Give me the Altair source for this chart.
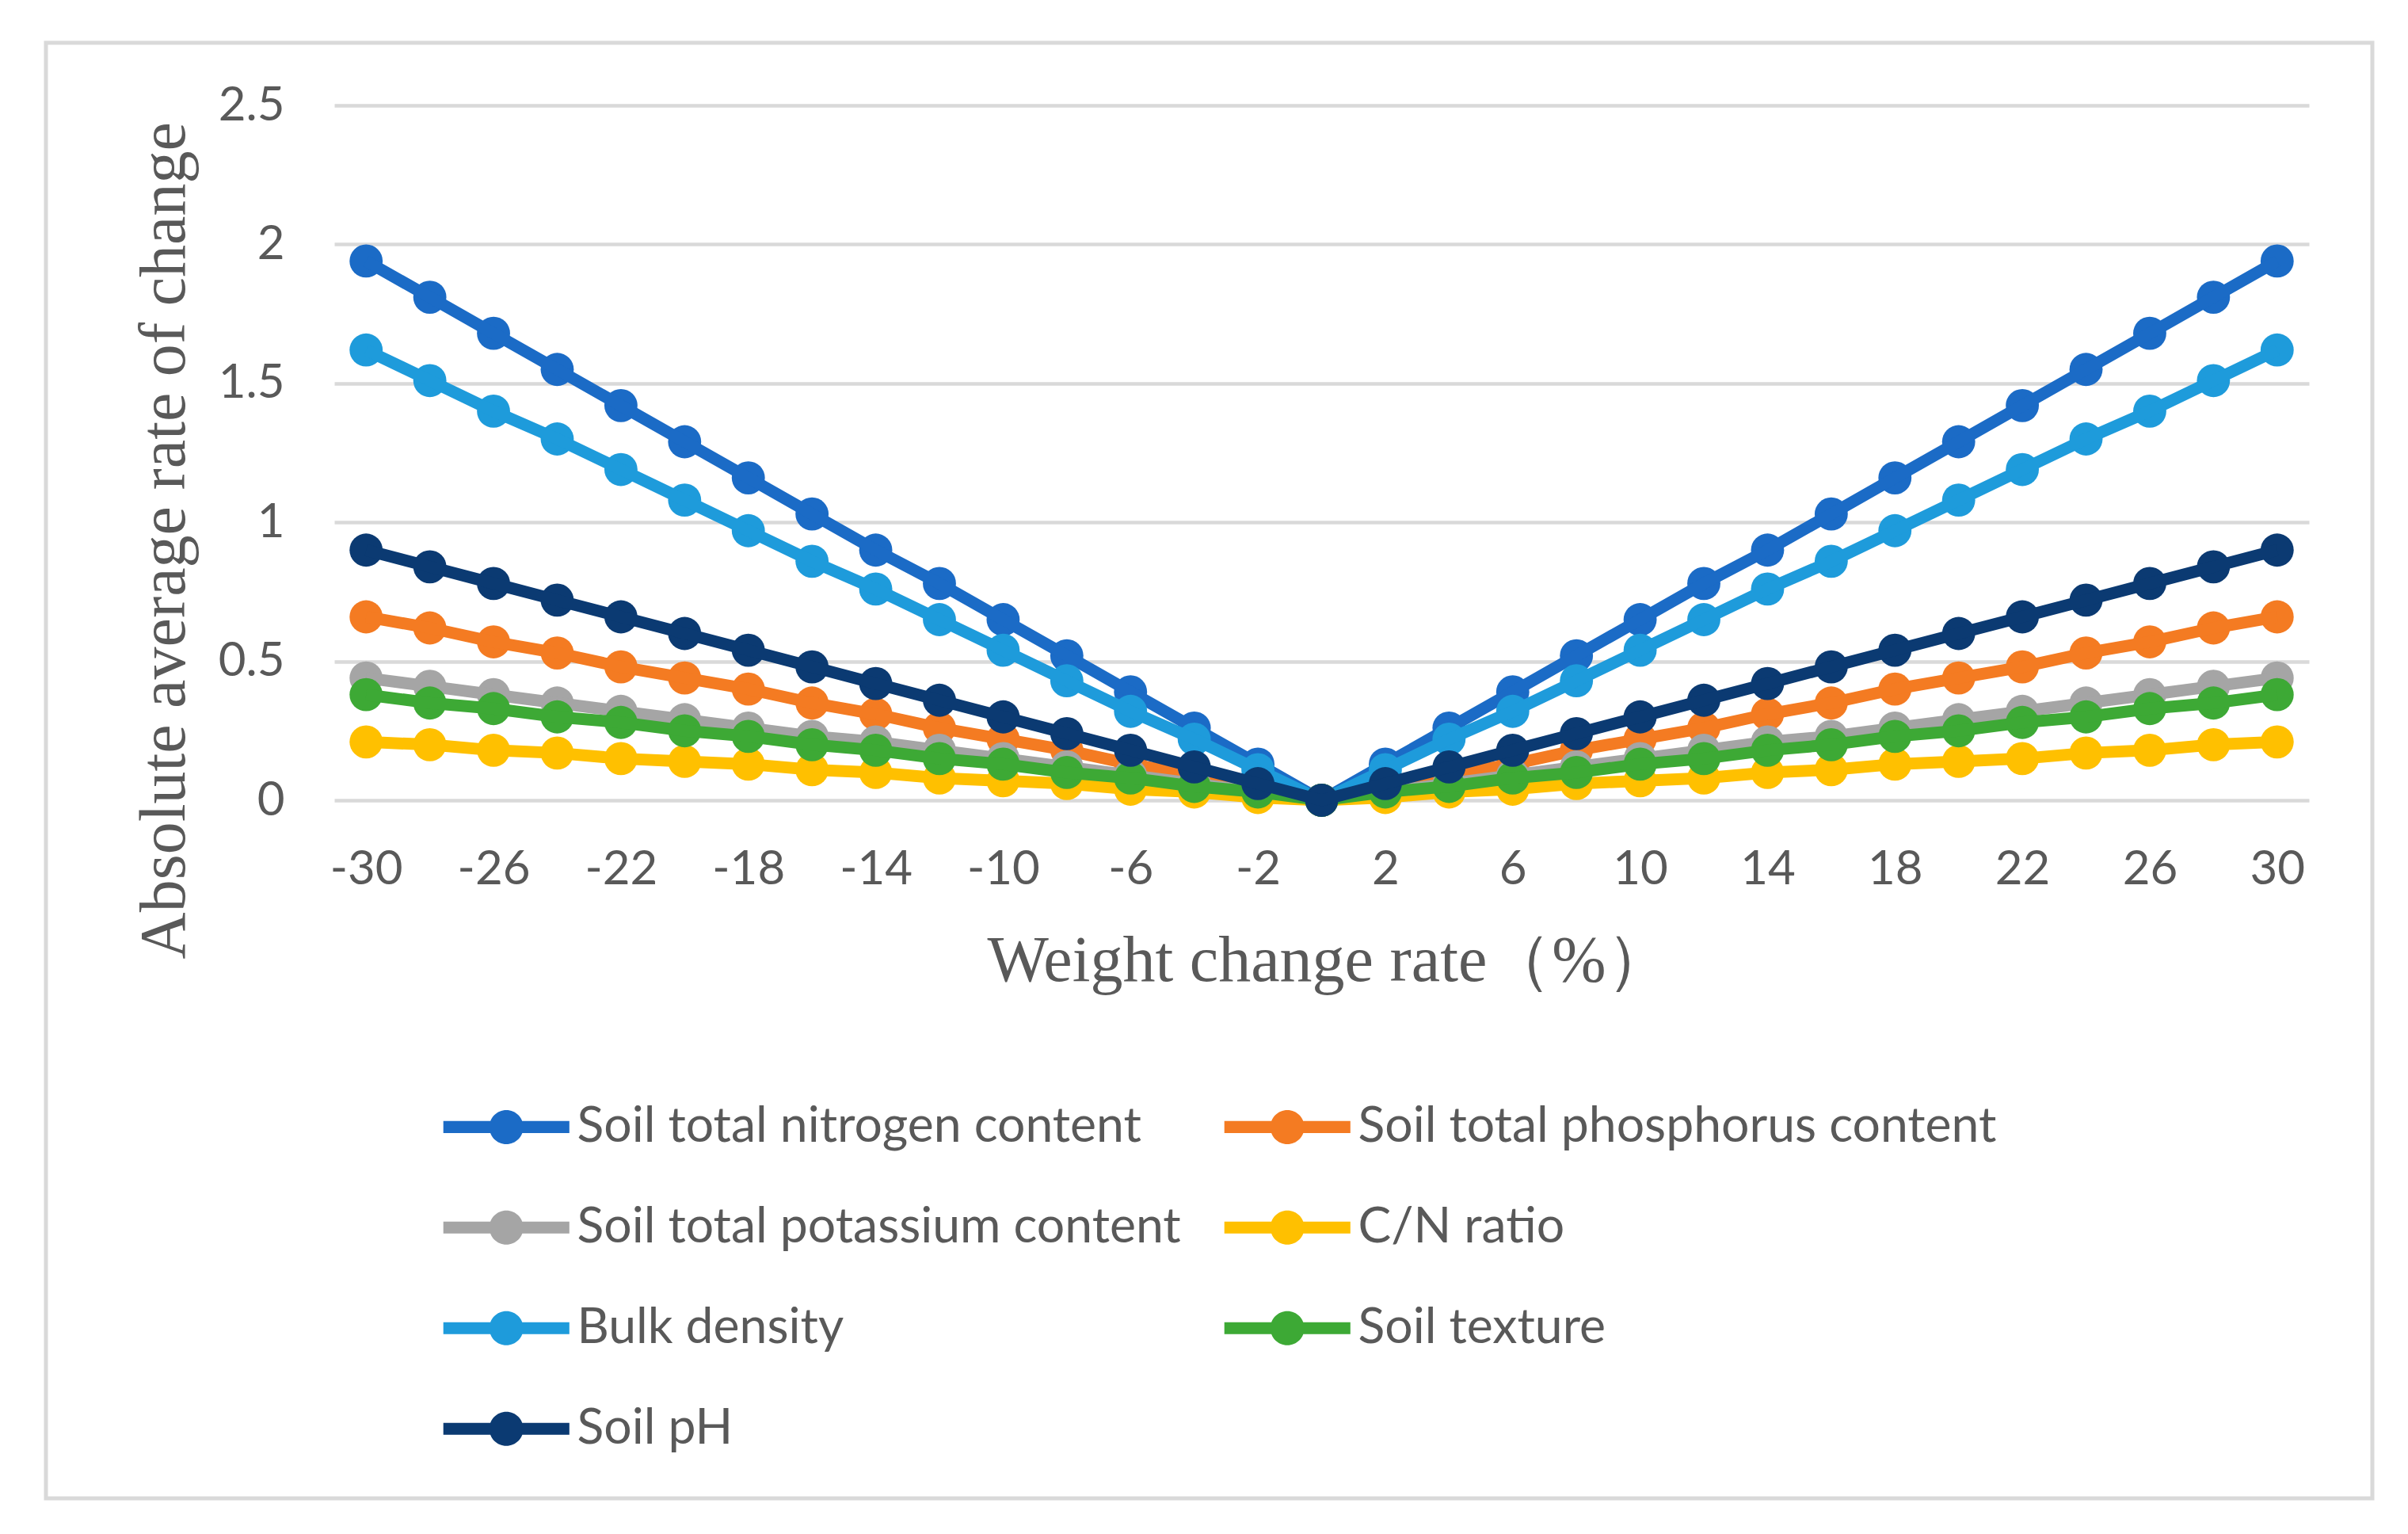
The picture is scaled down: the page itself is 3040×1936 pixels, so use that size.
import altair as alt
import pandas as pd

x_values = [-30, -28, -26, -24, -22, -20, -18, -16, -14, -12, -10, -8, -6, -4, -2, 0,
            2, 4, 6, 8, 10, 12, 14, 16, 18, 20, 22, 24, 26, 28, 30]
x_tick_labels = [-30, -26, -22, -18, -14, -10, -6, -2, 2, 6, 10, 14, 18, 22, 26, 30]
y_ticks = [0, 0.5, 1, 1.5, 2, 2.5]

series_names = [
    "Soil total nitrogen content",
    "Soil total phosphorus content",
    "Soil total potassium content",
    "C/N ratio",
    "Bulk density",
    "Soil texture",
    "Soil pH",
]
series_colors = ["#1B6BC6", "#F47B22", "#A5A5A5", "#FFC000", "#1E9BDB", "#3DA935", "#0B3A72"]

nitrogen = [1.94, 1.81, 1.68, 1.55, 1.42, 1.29, 1.16, 1.03, 0.90, 0.78, 0.65, 0.52, 0.39, 0.26, 0.13, 0.0,
            0.13, 0.26, 0.39, 0.52, 0.65, 0.78, 0.90, 1.03, 1.16, 1.29, 1.42, 1.55, 1.68, 1.81, 1.94]
phosphorus = [0.66, 0.62, 0.57, 0.53, 0.48, 0.44, 0.40, 0.35, 0.31, 0.26, 0.22, 0.18, 0.13, 0.09, 0.04, 0.0,
              0.04, 0.09, 0.13, 0.18, 0.22, 0.26, 0.31, 0.35, 0.40, 0.44, 0.48, 0.53, 0.57, 0.62, 0.66]
potassium = [0.44, 0.41, 0.38, 0.35, 0.32, 0.29, 0.26, 0.23, 0.21, 0.18, 0.15, 0.12, 0.09, 0.06, 0.03, 0.0,
             0.03, 0.06, 0.09, 0.12, 0.15, 0.18, 0.21, 0.23, 0.26, 0.29, 0.32, 0.35, 0.38, 0.41, 0.44]
cn_ratio = [0.21, 0.20, 0.18, 0.17, 0.15, 0.14, 0.13, 0.11, 0.10, 0.08, 0.07, 0.06, 0.04, 0.03, 0.01, 0.0,
            0.01, 0.03, 0.04, 0.06, 0.07, 0.08, 0.10, 0.11, 0.13, 0.14, 0.15, 0.17, 0.18, 0.20, 0.21]
bulk_density = [1.62, 1.51, 1.40, 1.30, 1.19, 1.08, 0.97, 0.86, 0.76, 0.65, 0.54, 0.43, 0.32, 0.22, 0.11, 0.0,
                0.11, 0.22, 0.32, 0.43, 0.54, 0.65, 0.76, 0.86, 0.97, 1.08, 1.19, 1.30, 1.40, 1.51, 1.62]
soil_texture = [0.38, 0.35, 0.33, 0.30, 0.28, 0.25, 0.23, 0.20, 0.18, 0.15, 0.13, 0.10, 0.08, 0.05, 0.03, 0.0,
                0.03, 0.05, 0.08, 0.10, 0.13, 0.15, 0.18, 0.20, 0.23, 0.25, 0.28, 0.30, 0.33, 0.35, 0.38]
soil_ph = [0.90, 0.84, 0.78, 0.72, 0.66, 0.60, 0.54, 0.48, 0.42, 0.36, 0.30, 0.24, 0.18, 0.12, 0.06, 0.0,
           0.06, 0.12, 0.18, 0.24, 0.30, 0.36, 0.42, 0.48, 0.54, 0.60, 0.66, 0.72, 0.78, 0.84, 0.90]

all_values = [nitrogen, phosphorus, potassium, cn_ratio, bulk_density, soil_texture, soil_ph]

rows = []
for name, vals in zip(series_names, all_values):
    for xv, yv in zip(x_values, vals):
        rows.append({"series": name, "x": xv, "value": yv})
df = pd.DataFrame(rows)

SANS = "Lato, Roboto, sans-serif"
SERIF = "Liberation Serif, Times New Roman, serif"
TEXT = "#595959"

legend_path = "M-3.7,-0.35H3.7V0.35H-3.7Z M1,0A1,1 0 1,1 -1,0A1,1 0 1,1 1,0Z"

color_enc = alt.Color(
    "series:N",
    scale=alt.Scale(domain=series_names, range=series_colors),
    legend=alt.Legend(
        title=None,
        orient="none",
        direction="horizontal",
        legendX=186,
        legendY=1258,
        columns=2,
        columnPadding=54,
        rowPadding=64,
        symbolType=legend_path,
        symbolSize=1849,
        symbolStrokeWidth=0,
        labelOffset=58,
        labelFont=SANS,
        labelFontSize=62.5,
        labelColor=TEXT,
        labelLimit=2000,
    ),
)

x_enc = alt.X(
    "x:O",
    scale=alt.Scale(type="point", padding=0.5),
    axis=alt.Axis(
        values=x_tick_labels,
        labelAngle=0,
        ticks=False,
        domain=False,
        grid=False,
        labelFont=SANS,
        labelFontSize=60,
        labelColor=TEXT,
        labelPadding=58,
        title="Weight change rate（%）",
        titleFont=SERIF,
        titleFontSize=82,
        titleFontWeight="normal",
        titleColor=TEXT,
        titleAlign="left",
        titleBaseline="alphabetic",
        titleX=824,
        titleY=227,
    ),
)
y_enc = alt.Y(
    "value:Q",
    scale=alt.Scale(domain=[0, 2.5]),
    axis=alt.Axis(
        values=y_ticks,
        format="~g",
        ticks=False,
        domain=False,
        grid=True,
        gridColor="#D9D9D9",
        gridWidth=4.5,
        labelFont=SANS,
        labelFontSize=60,
        labelColor=TEXT,
        labelPadding=63,
        title="Absolute average rate of change",
        titleFont=SERIF,
        titleFontSize=82,
        titleFontWeight="normal",
        titleColor=TEXT,
        titleAngle=270,
        titleAlign="left",
        titleBaseline="alphabetic",
        titleX=-190,
        titleY=1077,
    ),
)

layers = []
for name in series_names:
    sub = alt.Chart(df).transform_filter(alt.datum.series == name)
    pts = sub.mark_circle(size=1750, opacity=1).encode(x=x_enc, y=y_enc, color=color_enc)
    line = sub.mark_line(strokeWidth=15).encode(x=x_enc, y=y_enc, color=color_enc)
    layers.extend([pts, line])

border = alt.Chart(pd.DataFrame({"a": [0]})).mark_rect(
    filled=False, stroke="#D9D9D9", strokeWidth=5
).encode(
    x=alt.value(-364), x2=alt.value(2573), y=alt.value(-79), y2=alt.value(1758)
)

chart = alt.layer(border, *layers).properties(
    width=2493,
    height=877,
    autosize=alt.AutoSizeParams(type="none"),
    padding={"left": 414, "top": 125, "right": 117, "bottom": 918},
    background="white",
).configure_view(stroke=None)

chart.save("out.html", embed_options={"renderer": "svg", "actions": False})
